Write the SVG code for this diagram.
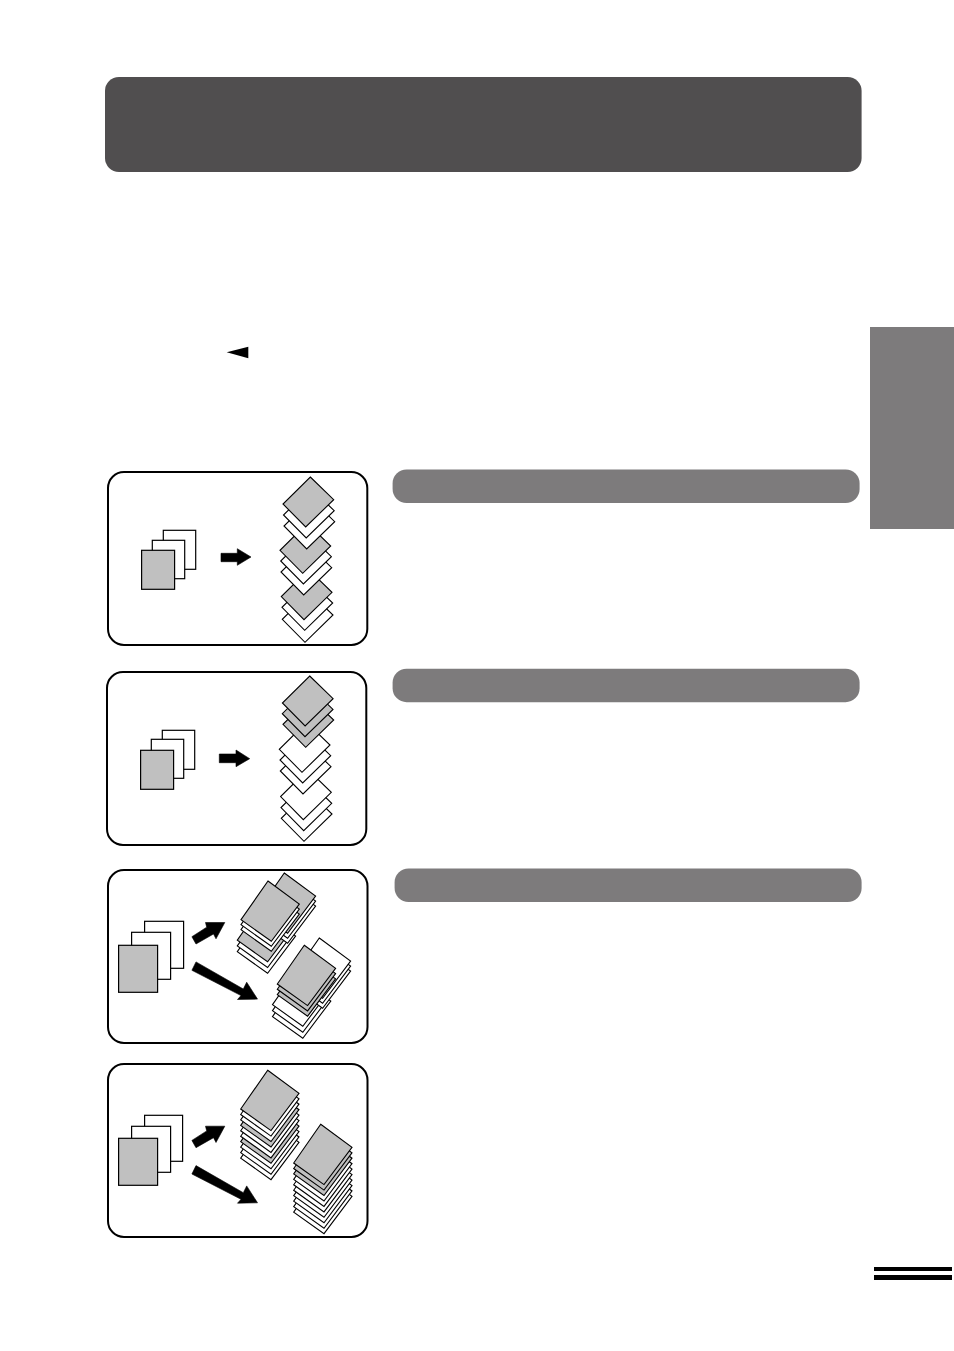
<svg xmlns="http://www.w3.org/2000/svg" xmlns:xlink="http://www.w3.org/1999/xlink" width="954" height="1351" viewBox="0 0 954 1351">
<style>
.panel{fill:#fff;stroke:#000;stroke-width:2}
.bar{fill:#7d7b7c}
.title{fill:#504e4f}
.p{fill:#fff;stroke:#000;stroke-width:1.2}
.pg{fill:#c0c0c0;stroke:#000;stroke-width:1.2}
.w{fill:#fff;stroke:#000;stroke-width:1.1}
.g{fill:#c0c0c0;stroke:#000;stroke-width:1.1}
.arrow{fill:#000}
.conn{fill:#000;stroke:#000;stroke-width:.6}
</style>
<defs>
<polygon id="d" points="0,0 23.4,22.7 -4.6,50 -27.3,27"/>
<polygon id="s" points="0,0 31.3,23 3.3,60.3 -27,38.7"/>
</defs>
<rect width="954" height="1351" fill="#fff"/>
<g id="title-bar"><rect class="title" x="105" y="77" width="756.6" height="95" rx="14"/></g>
<g id="side-tab"><rect class="bar" x="870" y="327" width="84" height="202"/></g>
<g id="marker"><polygon class="arrow" points="226.7,352.3 248.3,346.7 248.3,358.3"/></g>
<g id="bar-1"><rect class="bar" x="392.6" y="469.5" width="467" height="33.5" rx="14"/></g>
<g id="bar-2"><rect class="bar" x="392.6" y="668.7" width="467" height="33.5" rx="14"/></g>
<g id="bar-3"><rect class="bar" x="394.6" y="868.5" width="467" height="33.5" rx="14"/></g>
<g id="footer-rule"><rect x="874" y="1267" width="78" height="4"/><rect x="874" y="1275" width="78" height="5"/></g>

<g id="panel-1">
<rect class="panel" x="108" y="472" width="259.3" height="173" rx="16"/>
<rect class="p" x="163.3" y="530.3" width="32.4" height="39"/>
<rect class="p" x="152.3" y="540.3" width="32.4" height="38.4"/>
<rect class="pg" x="141.6" y="550.3" width="33" height="39"/>
<use xlink:href="#d" href="#d" class="w" x="309.6" y="592.3"/>
<use xlink:href="#d" href="#d" class="w" x="309.3" y="580.3"/>
<use xlink:href="#d" href="#d" class="g" x="308.6" y="569.6"/>
<use xlink:href="#d" href="#d" class="w" x="308.3" y="545"/>
<use xlink:href="#d" href="#d" class="w" x="308" y="534"/>
<use xlink:href="#d" href="#d" class="g" x="307.3" y="523.3"/>
<use xlink:href="#d" href="#d" class="w" x="311.3" y="499"/>
<use xlink:href="#d" href="#d" class="w" x="310.8" y="488"/>
<use xlink:href="#d" href="#d" class="g" x="310.3" y="477"/>
</g>

<g id="panel-2">
<rect class="panel" x="107" y="672" width="259.3" height="173" rx="16"/>
<rect class="p" x="162.3" y="730.3" width="32.4" height="39"/>
<rect class="p" x="151.3" y="739.3" width="32.4" height="39"/>
<rect class="pg" x="140.6" y="750.3" width="33" height="39"/>
<use xlink:href="#d" href="#d" class="w" x="308.6" y="791.3"/>
<use xlink:href="#d" href="#d" class="w" x="308.3" y="780.6"/>
<use xlink:href="#d" href="#d" class="w" x="307.9" y="769.6"/>
<use xlink:href="#d" href="#d" class="w" x="307.6" y="744"/>
<use xlink:href="#d" href="#d" class="w" x="307.3" y="733"/>
<use xlink:href="#d" href="#d" class="w" x="306.6" y="722.3"/>
<use xlink:href="#d" href="#d" class="g" x="310.3" y="697.3"/>
<use xlink:href="#d" href="#d" class="g" x="309.6" y="686.7"/>
<use xlink:href="#d" href="#d" class="g" x="309.7" y="676"/>
</g>

<g id="panel-3">
<rect class="panel" x="108" y="870" width="259.5" height="173" rx="16"/>
<rect class="p" x="144.6" y="921.3" width="39" height="47"/>
<rect class="p" x="131.6" y="932.3" width="39" height="47"/>
<rect class="pg" x="118.6" y="945.3" width="39" height="47"/>
<use xlink:href="#s" href="#s" class="w" x="264.3" y="913"/>
<use xlink:href="#s" href="#s" class="w" x="264.3" y="907.2"/>
<use xlink:href="#s" href="#s" class="g" x="264.3" y="901.5"/>
<use xlink:href="#s" href="#s" class="w" x="284.3" y="883"/>
<use xlink:href="#s" href="#s" class="w" x="284.3" y="878"/>
<use xlink:href="#s" href="#s" class="g" x="284.3" y="873"/>
<use xlink:href="#s" href="#s" class="w" x="268" y="891"/>
<use xlink:href="#s" href="#s" class="w" x="268" y="886"/>
<use xlink:href="#s" href="#s" class="g" x="268" y="881"/>
<use xlink:href="#s" href="#s" class="w" x="299.5" y="978"/>
<use xlink:href="#s" href="#s" class="w" x="299.5" y="972"/>
<use xlink:href="#s" href="#s" class="w" x="299.5" y="966"/>
<use xlink:href="#s" href="#s" class="w" x="319.3" y="948"/>
<use xlink:href="#s" href="#s" class="w" x="319.3" y="943"/>
<use xlink:href="#s" href="#s" class="w" x="319.3" y="938"/>
<use xlink:href="#s" href="#s" class="g" x="304.3" y="955.9"/>
<use xlink:href="#s" href="#s" class="g" x="304.3" y="950.6"/>
<use xlink:href="#s" href="#s" class="g" x="304.3" y="945.3"/>
</g>

<g id="panel-4">
<rect class="panel" x="108" y="1064" width="259.5" height="173" rx="16"/>
<rect class="p" x="144.6" y="1115.3" width="38" height="46"/>
<rect class="p" x="131.6" y="1126.3" width="39" height="46"/>
<rect class="pg" x="118.6" y="1138.3" width="39" height="47"/>
<use xlink:href="#s" href="#s" class="w" x="267.7" y="1119.4"/>
<use xlink:href="#s" href="#s" class="w" x="267.7" y="1113.95"/>
<use xlink:href="#s" href="#s" class="w" x="267.7" y="1108.5"/>
<use xlink:href="#s" href="#s" class="g" x="267.7" y="1103"/>
<use xlink:href="#s" href="#s" class="w" x="267.7" y="1097.6"/>
<use xlink:href="#s" href="#s" class="w" x="267.7" y="1092.1"/>
<use xlink:href="#s" href="#s" class="g" x="267.7" y="1086.7"/>
<use xlink:href="#s" href="#s" class="w" x="267.7" y="1081.2"/>
<use xlink:href="#s" href="#s" class="w" x="267.7" y="1075.8"/>
<use xlink:href="#s" href="#s" class="g" x="267.7" y="1070.3"/>
<use xlink:href="#s" href="#s" class="w" x="320.7" y="1173.4"/>
<use xlink:href="#s" href="#s" class="w" x="320.7" y="1167.95"/>
<use xlink:href="#s" href="#s" class="w" x="320.7" y="1162.5"/>
<use xlink:href="#s" href="#s" class="w" x="320.7" y="1157"/>
<use xlink:href="#s" href="#s" class="w" x="320.7" y="1151.6"/>
<use xlink:href="#s" href="#s" class="w" x="320.7" y="1146.1"/>
<use xlink:href="#s" href="#s" class="w" x="320.7" y="1140.7"/>
<use xlink:href="#s" href="#s" class="g" x="320.7" y="1135.2"/>
<use xlink:href="#s" href="#s" class="g" x="320.7" y="1129.8"/>
<use xlink:href="#s" href="#s" class="g" x="320.7" y="1124.3"/>
</g>

<g id="connectors">
<polygon class="conn" points="221,553.3 237.3,553.3 237.3,548.7 251,557 237.3,565.3 237.3,561.7 221,561.7"/>
<polygon class="conn" points="219.3,754 236,754 236,750 249.7,758.7 236,766.7 236,762.7 219.3,762.7"/>
<polygon class="conn" points="191.9,936.7 206.7,927.2 205.5,922.5 224.8,922.5 216,938.8 213.5,934 196,944"/>
<polygon class="conn" points="196,961.9 243.3,989 246.7,982.2 257.5,999.1 237.5,999.5 241,995.6 191.9,970.3"/>
<polygon class="conn" points="191.9,1140.4 206.7,1130.9 205.5,1126.2 224.8,1126.2 216,1142.5 213.5,1137.7 196,1147.7"/>
<polygon class="conn" points="196,1165.6 243.3,1192.7 246.7,1185.9 257.5,1202.8 237.5,1203.2 241,1199.3 191.9,1174"/>
</g>
</svg>
